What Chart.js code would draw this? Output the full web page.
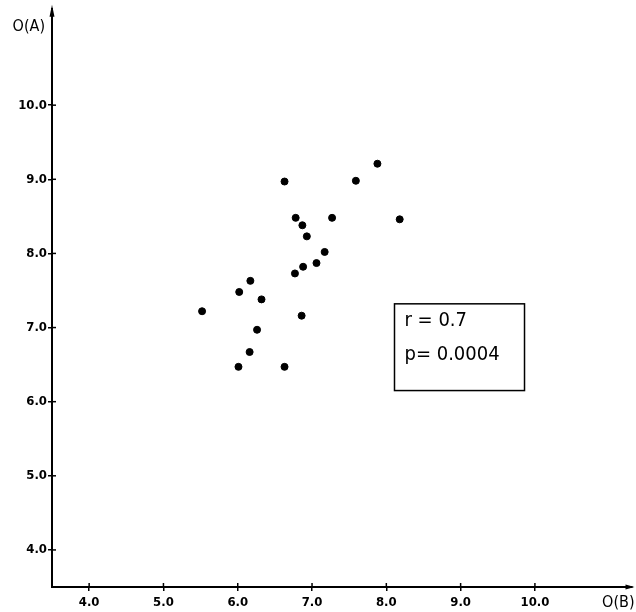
<!DOCTYPE html>
<html>
<head>
<meta charset="utf-8">
<script src="https://cdn.jsdelivr.net/npm/chart.js@4.4.1/dist/chart.umd.min.js"></script>
<style>
    html, body { margin: 0; padding: 0; background: #fff; }
    #wrap { width: 636px; height: 612px; }
</style>
</head>
<body>
<div id="wrap"><canvas id="plot" width="636" height="612"></canvas></div>
<script>
// values
const xValues = [7.88, 6.63, 7.59, 6.78, 6.87, 7.27, 8.18, 6.93, 7.17, 7.06, 6.88,
                 6.77, 6.17, 6.02, 6.32, 5.52, 6.86, 6.26, 6.16, 6.01, 6.63];
const yValues = [9.21, 8.97, 8.98, 8.48, 8.38, 8.48, 8.46, 8.23, 8.02, 7.87, 7.82,
                 7.73, 7.63, 7.48, 7.38, 7.22, 7.16, 6.97, 6.67, 6.47, 6.47];
const tickValues = [4, 5, 6, 7, 8, 9, 10];
const xTitle = 'O(B)';
const yTitle = 'O(A)';
const statLines = ['r = 0.7', 'p= 0.0004'];

const FONT = "'DejaVu Sans Condensed', 'DejaVu Sans', sans-serif";

// draws the little tick crosses, arrow heads, axis names and the stats box
const decorPlugin = {
    id: 'decor',
    afterDraw(chart) {
        const ctx = chart.ctx;
        const xs = chart.scales.x, ys = chart.scales.y;
        const area = chart.chartArea;
        ctx.save();
        ctx.strokeStyle = '#000';
        ctx.fillStyle = '#000';
        ctx.lineWidth = 1.5;

        // inner half of the tick crosses
        tickValues.forEach(v => {
            const px = xs.getPixelForValue(v);
            ctx.beginPath(); ctx.moveTo(px, area.bottom); ctx.lineTo(px, area.bottom - 4); ctx.stroke();
            const py = ys.getPixelForValue(v);
            ctx.beginPath(); ctx.moveTo(area.left, py); ctx.lineTo(area.left + 4, py); ctx.stroke();
        });

        // arrow heads
        ctx.beginPath();
        ctx.moveTo(area.left, area.top - 4);
        ctx.lineTo(area.left - 2.5, area.top + 8);
        ctx.lineTo(area.left + 2.5, area.top + 8);
        ctx.closePath(); ctx.fill();
        ctx.beginPath();
        ctx.moveTo(area.right + 3, area.bottom);
        ctx.lineTo(area.right - 6, area.bottom - 2.5);
        ctx.lineTo(area.right - 6, area.bottom + 2.5);
        ctx.closePath(); ctx.fill();

        // axis names
        ctx.font = '16px ' + FONT;
        ctx.textBaseline = 'middle';
        ctx.textAlign = 'right';
        ctx.fillText(yTitle, area.left - 7, 27);
        ctx.fillText(xTitle, area.right + 3, 603);

        // stats box
        const bx0 = xs.getPixelForValue(8.11), bx1 = xs.getPixelForValue(9.86);
        const by0 = ys.getPixelForValue(7.32), by1 = ys.getPixelForValue(6.15);
        ctx.lineWidth = 1.5;
        ctx.strokeRect(bx0, by0, bx1 - bx0, by1 - by0);
        ctx.font = '20px ' + FONT;
        ctx.textAlign = 'left';
        ctx.fillText(statLines[0], bx0 + 10, by0 + 17);
        ctx.fillText(statLines[1], bx0 + 10, by0 + 51);
        ctx.restore();
    }
};

const axisCommon = {
    type: 'linear',
    min: 3.5,
    max: 11.3,
    afterBuildTicks: s => { s.ticks = tickValues.map(v => ({ value: v })); },
    grid: { drawOnChartArea: false, drawTicks: true, tickLength: 4, color: '#000', lineWidth: 1.5 },
    border: { display: true, color: '#000', width: 2 },
    ticks: {
        color: '#000',
        font: { family: FONT, size: 13, weight: 'bold' },
        callback: v => v.toFixed(1)
    }
};

new Chart(document.getElementById('plot').getContext('2d'), {
    type: 'scatter',
    data: {
        datasets: [{
            data: xValues.map((x, i) => ({ x: x, y: yValues[i] })),
            backgroundColor: '#000',
            borderColor: '#000',
            pointRadius: 3.5,
            pointHoverRadius: 3.5
        }]
    },
    options: {
        responsive: false,
        animation: false,
        layout: { padding: { top: 5, right: 4, left: 0, bottom: 0 } },
        plugins: { legend: { display: false }, tooltip: { enabled: false } },
        scales: {
            x: Object.assign({}, axisCommon, {
                afterFit: s => { s.height = 25; },
                ticks: Object.assign({}, axisCommon.ticks, { padding: 4 })
            }),
            y: Object.assign({}, axisCommon, {
                afterFit: s => { s.width = 52; },
                ticks: Object.assign({}, axisCommon.ticks, { padding: 1 })
            })
        }
    },
    plugins: [decorPlugin]
});
</script>
</body>
</html>
